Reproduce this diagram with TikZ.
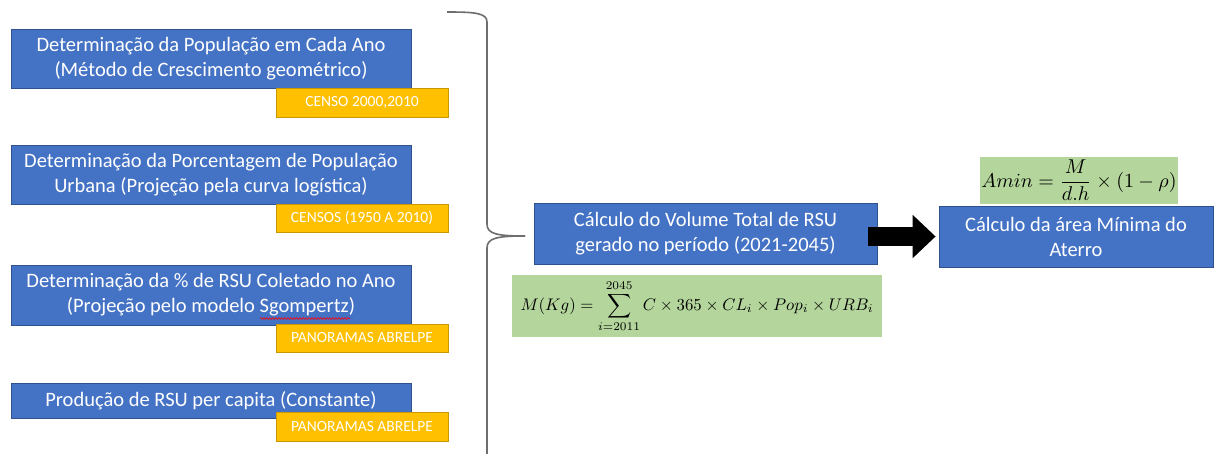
\documentclass[tikz,border=0pt]{standalone}
\usepackage{amsmath}
\usepackage{graphicx}
\usepackage{fontspec}
\setmainfont{Carlito}
\usetikzlibrary{arrows.meta,decorations.pathmorphing}
\definecolor{bluebox}{HTML}{4472C4}
\definecolor{blueedge}{HTML}{2F528F}
\definecolor{orangebox}{HTML}{FFC000}
\definecolor{orangeedge}{HTML}{C99800}
\definecolor{greenbox}{HTML}{B4D69C}
\definecolor{bracegray}{HTML}{6E6E6E}
\tikzset{
  bbox/.style={draw=blueedge, line width=0.8pt, fill=bluebox, text=white, align=center,
    inner sep=0pt, font=\fontsize{20.5}{25}\selectfont},
  obox/.style={draw=orangeedge, line width=0.8pt, fill=orangebox, text=white, align=center,
    inner sep=0pt, minimum width=172pt, font=\fontsize{15.5}{18}\selectfont},
  gbox/.style={fill=greenbox, inner sep=0pt, align=center},
}
\begin{document}
\begin{tikzpicture}[x=1pt,y=-1pt]
\useasboundingbox[fill=white] (0,0) rectangle (1214,454);
% left boxes
\node[bbox, minimum width=400pt, minimum height=59pt] (b1) at (211,58.5)
  {Determinação da População em Cada Ano\\(Método de Crescimento geométrico)};
\node[obox, minimum height=29pt] (o1) at (362,102.5) {CENSO 2000,2010};
\node[bbox, minimum width=400pt, minimum height=59pt] (b2) at (211,174.5)
  {Determinação da Porcentagem de População\\Urbana (Projeção pela curva logística)};
\node[obox, minimum height=28pt] (o2) at (362,218) {CENSOS (1950 A 2010)};
\node[bbox, minimum width=400pt, minimum height=60pt] (b3) at (211,295)
  {Determinação da \% de RSU Coletado no Ano\\(Projeção pelo modelo Sgompertz)};
\node[obox, minimum height=28pt] (o3) at (362,338) {PANORAMAS ABRELPE};
\node[bbox, minimum width=400pt, minimum height=35pt] (b4) at (211,400.5)
  {Produção de RSU per capita (Constante)};
\node[obox, minimum height=29pt] (o4) at (362,426.5) {PANORAMAS ABRELPE};
% spell-check squiggle
\coordinate (sq1) at (260,318.5);
\coordinate (sq2) at (350,318.5);
\draw[red, line width=0.6pt, decorate, decoration={snake, amplitude=0.9pt, segment length=3pt}] (sq1) -- (sq2);
% brace
\coordinate (brtop) at (447,12);
\coordinate (brtip) at (525,236);
\coordinate (brbot) at (487,470);
\draw[bracegray, line width=1.6pt]
  (brtop) .. controls (475,12) and (487,13) .. (487,22) -- (487,224)
  .. controls (487,234) and (497,236) .. (brtip);
\draw[bracegray, line width=1.6pt]
  (brbot) -- (487,248) .. controls (487,238) and (497,236) .. (brtip);
% middle
\node[bbox, minimum width=343pt, minimum height=61pt] (mid) at (705.5,233.5)
  {Cálculo do Volume Total de RSU\\gerado no período (2021-2045)};
\node[gbox, minimum width=370pt, minimum height=62pt] (fm) at (697,306)
  {\scalebox{1.68}{$M(Kg) = \displaystyle\sum_{i=2011}^{2045} C \times 365 \times CL_i \times Pop_i \times URB_i$}};
% right
\node[gbox, minimum width=198pt, minimum height=47pt] (fa) at (1079,180.5)
  {\scalebox{2.0}{$Amin = \dfrac{M}{d.h} \times (1-\rho)$}};
\node[bbox, minimum width=274pt, minimum height=61pt] (res) at (1076,236.5)
  {Cálculo da área Mínima do\\Aterro};
% arrow
\coordinate (arrstart) at ([xshift=-9pt]mid.east |- res.west);
\draw[black, line width=18pt, -{Triangle[length=23pt,width=42pt]}] (arrstart) -- ([xshift=-3pt]res.west);
\end{tikzpicture}
\end{document}
